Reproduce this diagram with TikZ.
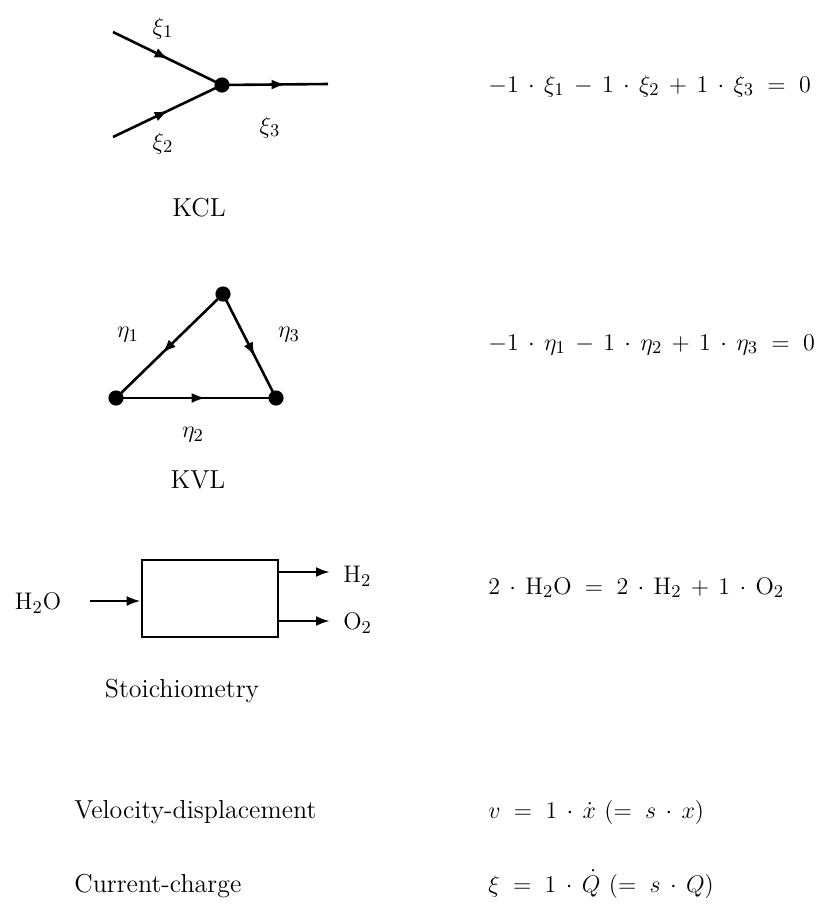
\documentclass[tikz,border=0pt]{standalone}
\usetikzlibrary{arrows.meta,decorations.markings}
\newcommand\eqspacing{\medmuskip=7mu\relax\thickmuskip=10mu\relax}
\begin{document}
\begin{tikzpicture}[x=0.5pt,y=-0.5pt,
  wire/.style={line width=1.3pt},
  midarrow/.style={postaction={decorate},decoration={markings,mark=at position #1 with {\arrow{Latex[length=7pt,width=5pt]}}}},
  junction/.style={circle,fill=black,inner sep=0pt,minimum size=7.6pt},
  lbl/.style={font=\fontsize{13}{15}\selectfont,inner sep=0pt},
  sym/.style={font=\fontsize{13}{15}\selectfont,inner sep=0pt},
  eqn/.style={font=\fontsize{13}{15}\selectfont,execute at begin node=\eqspacing,inner sep=0pt,anchor=base west},
  flow/.style={line width=1.3pt,-{Latex[length=7pt,width=5pt]}},
  reactor/.style={draw,line width=1.3pt,minimum width=68pt,minimum height=38.5pt,inner sep=0pt}]
\useasboundingbox (0,0) rectangle (820,905);
% KCL
\coordinate (a1) at (113,32);
\coordinate (a2) at (113,137);
\coordinate (a3) at (328,84);
\node[junction] (j) at (222,85) {};
\draw[wire,midarrow=0.51] (a1) -- (j.center);
\draw[wire,midarrow=0.51] (a2) -- (j.center);
\draw[wire,midarrow=0.6] (j.center) -- (a3);
\node[sym] (x1) at (163,28) {$\xi_1$};
\node[sym] (x2) at (163,143) {$\xi_2$};
\node[sym] (x3) at (270,127) {$\xi_3$};
\node[lbl,anchor=base] (kcl) at (199,216) {KCL};
\node[eqn] (e1) at (488,92) {$-1\cdot\xi_1-1\cdot\xi_2+1\cdot\xi_3=0$};
% KVL
\node[junction] (t) at (223,294) {};
\node[junction] (l) at (116,398) {};
\node[junction] (r) at (276,398) {};
\draw[wire,midarrow=0.57] (t.center) -- (l.center);
\draw[wire,midarrow=0.6] (t.center) -- (r.center);
\draw[wire,midarrow=0.56] (l.center) -- (r.center);
\node[sym] (h1) at (128,335) {$\eta_1$};
\node[sym] (h3) at (289,335) {$\eta_3$};
\node[sym] (h2) at (193,435) {$\eta_2$};
\node[lbl,anchor=base] (kvl) at (198,488) {KVL};
\node[eqn] (e2) at (488,350) {$-1\cdot\eta_1-1\cdot\eta_2+1\cdot\eta_3=0$};
% Stoichiometry
\node[reactor] (box) at (210,598.5) {};
\node[sym] (in) at (38,603) {$\mathrm{H_2O}$};
\coordinate (inS) at (90,601);
\coordinate (o1) at (330,572);
\coordinate (o2) at (330,621);
\draw[flow] (inS) -- (inS -| box.west);
\draw[flow] (o1 -| box.east) -- (o1);
\draw[flow] (o2 -| box.east) -- (o2);
\node[sym,anchor=west] (oh) at (343,576) {$\mathrm{H_2}$};
\node[sym,anchor=west] (oo) at (343,623) {$\mathrm{O_2}$};
\node[lbl,anchor=base] (st) at (182,697) {Stoichiometry};
\node[eqn] (e3) at (488,594) {$2\cdot\mathrm{H_2O}=2\cdot\mathrm{H_2}+1\cdot\mathrm{O_2}$};
% Bottom lines
\node[lbl,anchor=base west] (vd) at (74,818) {Velocity-displacement};
\node[eqn] (e4) at (488,818) {$v=1\cdot\dot{x}\ (=s\cdot x)$};
\node[lbl,anchor=base west] (cc) at (74,892) {Current-charge};
\node[eqn] (e5) at (488,892) {$\xi=1\cdot\dot{Q}\ (=s\cdot Q)$};
\end{tikzpicture}
\end{document}
